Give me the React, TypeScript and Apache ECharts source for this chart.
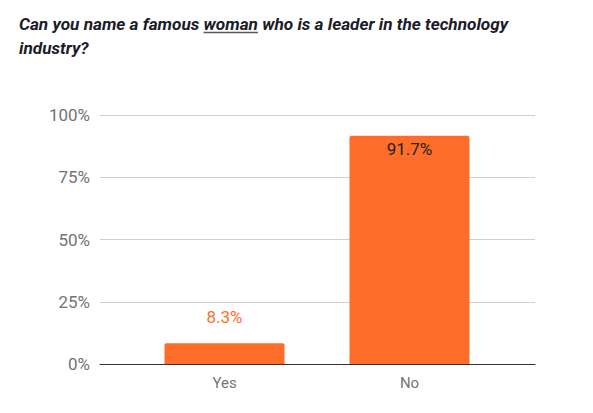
import * as echarts from 'echarts';
import { useEffect, useRef } from 'react';
import type { ECharts } from 'echarts';

const categories = ['Yes', 'No'];
const values = [8.3, 91.7];
const yTicks = [0, 25, 50, 75, 100];

const titleBefore = 'Can you name a famous ';
const titleUnderlined = 'woman';
const titleAfter = ' who is a leader in the technology';
const titleLine2 = 'industry?';

const ORANGE = '#ff6d2a';
const TITLE_SIZE = 17.2;
const TITLE_FONT = `italic bold ${TITLE_SIZE}px Roboto`;

const measure = (text: string) => {
  const ctx = document.createElement('canvas').getContext('2d');
  if (!ctx) return text.length * 8;
  ctx.font = TITLE_FONT;
  return ctx.measureText(text).width;
};

const App = () => {
  const chartRef = useRef<HTMLDivElement>(null);

  useEffect(() => {
    let chart: ECharts | null = null;
    if (chartRef.current !== null) {
      chart = echarts.init(chartRef.current, null, { renderer: 'svg' });
    }

    // body has an 8px margin, so everything sits 8px up/left of page coords
    const titleX = 11;
    const uStart = titleX + measure(titleBefore);
    const uEnd = uStart + measure(titleUnderlined);
    const titleStyle = {
      fontFamily: 'Roboto',
      fontStyle: 'italic',
      fontWeight: 'bold',
      fontSize: TITLE_SIZE,
      fill: '#1c1c28',
    };

    const options = {
      animation: false,
      graphic: [
        {
          type: 'text',
          left: titleX,
          top: 7,
          style: {
            ...titleStyle,
            text: titleBefore + titleUnderlined + titleAfter,
          },
        },
        {
          type: 'text',
          left: titleX,
          top: 31,
          style: { ...titleStyle, text: titleLine2 },
        },
        {
          type: 'line',
          shape: { x1: uStart, y1: 24.5, x2: uEnd, y2: 24.5 },
          style: { stroke: '#555a66', lineWidth: 1.3 },
        },
      ],
      grid: [
        { left: 92, width: 435, top: 107, height: 249 },
        { left: 124, width: 370, top: 107, height: 249 },
      ],
      xAxis: [
        {
          type: 'category',
          gridIndex: 0,
          data: categories,
          axisLine: { lineStyle: { color: '#333', width: 1.2 } },
          axisTick: { show: false },
          axisLabel: { show: false },
        },
        {
          type: 'category',
          gridIndex: 1,
          data: categories,
          axisLine: { show: false },
          axisTick: { show: false },
          axisLabel: {
            color: '#757575',
            fontFamily: 'Roboto',
            fontSize: 15,
            margin: 11,
          },
        },
      ],
      yAxis: [
        {
          type: 'value',
          gridIndex: 0,
          min: yTicks[0],
          max: yTicks[yTicks.length - 1],
          interval: 25,
          axisLine: { show: false },
          axisTick: { show: false },
          splitLine: { lineStyle: { color: '#cfcfcf', width: 1 } },
          axisLabel: {
            color: '#737373',
            fontFamily: 'Roboto',
            fontSize: 17,
            margin: 10,
            formatter: '{value}%',
          },
        },
        {
          type: 'value',
          gridIndex: 1,
          min: yTicks[0],
          max: yTicks[yTicks.length - 1],
          show: false,
        },
      ],
      series: [
        {
          type: 'bar',
          xAxisIndex: 1,
          yAxisIndex: 1,
          barWidth: 120,
          data: values.map((v, i) => ({
            value: v,
            label:
              i === 0
                ? {
                    show: true,
                    position: 'top',
                    distance: 18,
                    color: ORANGE,
                    fontFamily: 'Roboto',
                    fontSize: 17,
                    formatter: '{c}%',
                  }
                : {
                    show: true,
                    position: 'insideTop',
                    distance: 5,
                    color: '#222',
                    fontFamily: 'Roboto',
                    fontSize: 17,
                    formatter: '{c}%',
                  },
          })),
          itemStyle: { color: ORANGE, borderRadius: [2, 2, 0, 0] },
        },
      ],
    };

    chart?.setOption(options);

    return () => {
      chart?.dispose();
      chart = null;
    };
  }, []);

  return <div ref={chartRef} style={{ width: 577, height: 397 }}></div>;
};

export default App;
